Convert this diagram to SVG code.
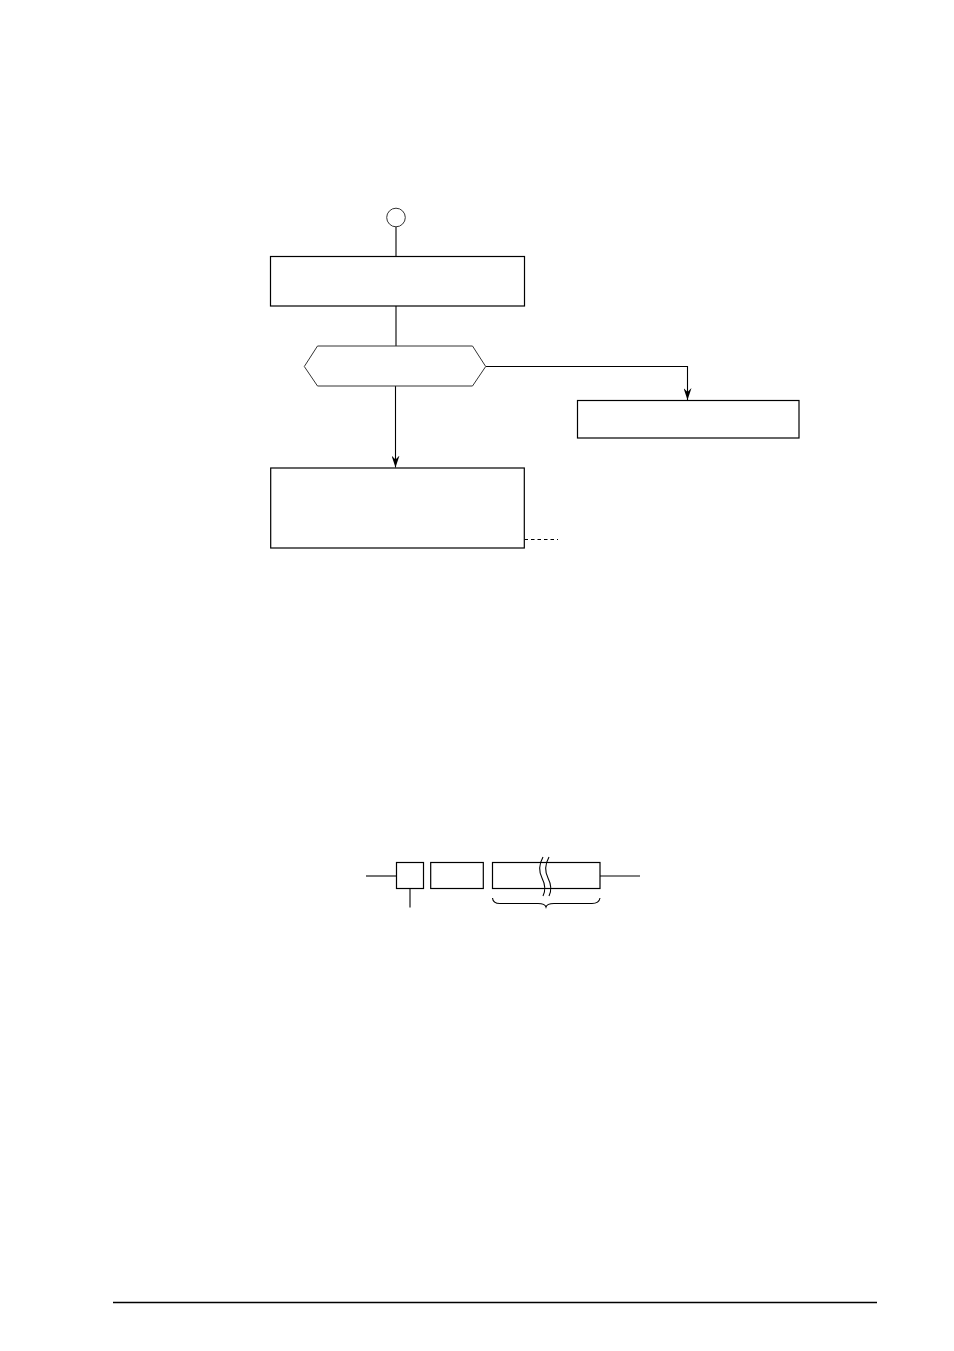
<svg xmlns="http://www.w3.org/2000/svg" width="954" height="1351" viewBox="0 0 954 1351">
<style>
.s{fill:#fff;stroke:#000;stroke-width:1.2}
.l{fill:none;stroke:#000;stroke-width:1.1}
.g{fill:#fff;stroke:#333;stroke-width:1}
</style>
<defs>
<marker id="ah" markerWidth="13" markerHeight="8" refX="12" refY="4" orient="auto" markerUnits="userSpaceOnUse" viewBox="0 0 13 8">
<path d="M0,0 L4,4 L0,8 L12,4 Z" fill="#000"/>
</marker>
</defs>
<rect width="954" height="1351" fill="#fff"/>
<g id="connectors">
<line class="l" x1="396" y1="227" x2="396" y2="256.5"/>
<line class="l" x1="396" y1="306" x2="396" y2="346"/>
<line class="l" x1="395.5" y1="386" x2="395.5" y2="467.5" marker-end="url(#ah)"/>
<polyline class="l" points="485.7,366.5 687.5,366.5 687.5,400" marker-end="url(#ah)"/>
<line class="l" x1="524.5" y1="539.5" x2="558" y2="539.5" stroke-dasharray="3.5,3"/>
</g>
<g id="start"><circle class="g" cx="396" cy="217.5" r="9.3"/></g>
<g id="box1"><rect class="s" x="270.5" y="256.5" width="254" height="49.5"/></g>
<g id="decision"><polygon class="g" points="317.5,346 472.5,346 485.7,366.5 472.5,386 317.5,386 304.3,366.5"/></g>
<g id="box2"><rect class="s" x="577.5" y="400.5" width="221.5" height="37.5"/></g>
<g id="box3"><rect class="s" x="270.7" y="468" width="253.6" height="80"/></g>
<g id="frame">
<line class="l" x1="366" y1="876" x2="396.5" y2="876"/>
<rect class="s" x="396.5" y="862.5" width="27" height="26" stroke="#333"/>
<line class="l" x1="410" y1="888.5" x2="410" y2="907.5"/>
<rect class="s" x="430.7" y="862.5" width="52.6" height="26" stroke="#555"/>
<rect class="s" x="492.5" y="862.5" width="107.5" height="26" stroke="#333"/>
<path class="l" d="M543,857 C538,866 539,872 542,878 C545,884 546,890 543,896" stroke-width="0.9"/>
<path class="l" d="M549,857 C544,866 545,872 548,878 C551,884 552,890 549,896" stroke-width="0.9"/>
<line class="l" x1="600" y1="876" x2="640" y2="876"/>
<path class="l" d="M492.5,898 Q493,903.5 500,903.5 L538,903.5 Q545,903.5 546,907 Q547,903.5 554,903.5 L592,903.5 Q599,903.5 600,898" stroke-width="0.9"/>
</g>
<line x1="113" y1="1302.5" x2="877" y2="1302.5" stroke="#000" stroke-width="1.3"/>
</svg>
